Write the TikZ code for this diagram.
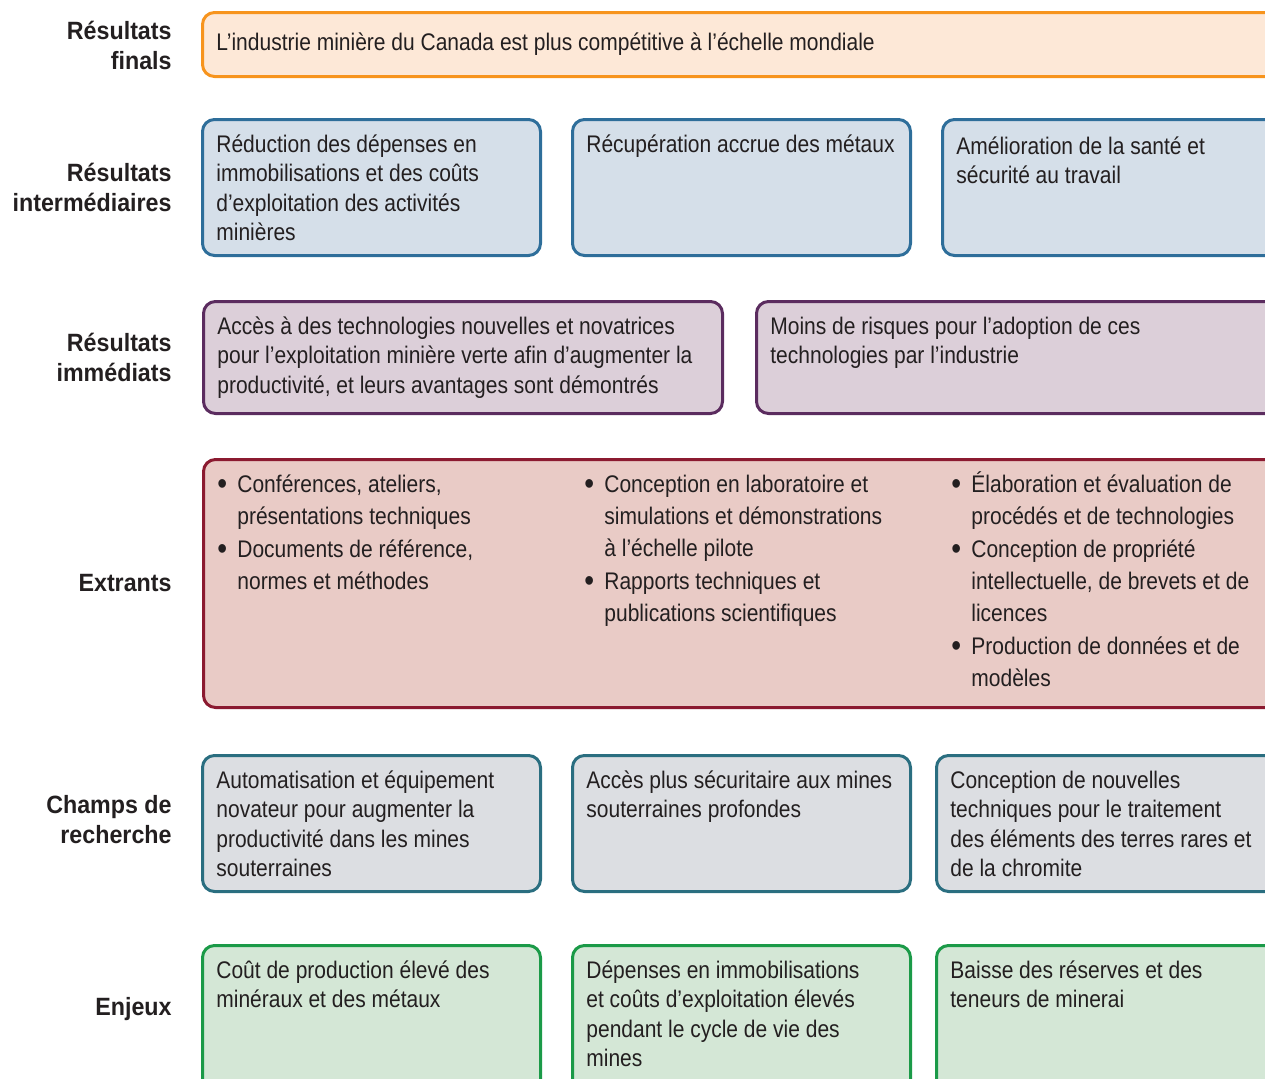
\documentclass[tikz,border=0pt]{standalone}
\usepackage{fontspec}
\setmainfont{Liberation Sans}[FakeStretch=0.875]
\newfontfamily\headfont{Liberation Sans}[FakeStretch=0.93]

\definecolor{ink}{HTML}{231F20}
\definecolor{orangeline}{HTML}{F7941D}
\definecolor{orangefill}{HTML}{FDE8D7}
\definecolor{blueline}{HTML}{2E6E9A}
\definecolor{bluefill}{HTML}{D5DFE9}
\definecolor{plumline}{HTML}{5B2C5F}
\definecolor{plumfill}{HTML}{DCCFD9}
\definecolor{redline}{HTML}{8B1A30}
\definecolor{redfill}{HTML}{E9CBC6}
\definecolor{tealline}{HTML}{2A6E80}
\definecolor{tealfill}{HTML}{DCDEE2}
\definecolor{greenline}{HTML}{1B9A48}
\definecolor{greenfill}{HTML}{D4E7D6}

\newcommand{\itm}{\makebox[10pt][l]{\raisebox{-0.6pt}{\fontsize{16}{16}\selectfont\textbullet}}}
\newcommand{\ind}{\makebox[10pt]{}}

\tikzset{
	panel/.style={draw=#1line, fill=#1fill, line width=1.5pt, rounded corners=6pt, anchor=north west, inner sep=0pt},
	copy/.style={anchor=north west, inner sep=7.5pt, yshift=1pt, align=left, text=ink, font=\fontsize{12}{14.75}\selectfont},
	list/.style={anchor=north west, inner sep=7.5pt, yshift=1.5pt, align=left, text=ink, font=\fontsize{12}{16}\selectfont},
	rowname/.style={anchor=east, align=right, inner sep=0pt, text=ink, font=\headfont\bfseries\fontsize{12.5}{15}\selectfont},
}

\begin{document}
\begin{tikzpicture}[x=0.5pt, y=-0.5pt]
	\def \px{0.5pt}
	
	\useasboundingbox (0,0) rectangle (1265,1078);
	\clip (0,0) rectangle (1265,1078);
	
	% row names
	\node[rowname] (nfin) at (172,45) {Résultats\\finals};
	\node[rowname] (nint) at (172,187) {Résultats\\intermédiaires};
	\node[rowname] (nimm) at (172,357) {Résultats\\immédiats};
	\node[rowname] (next) at (172,583) {Extrants};
	\node[rowname] (nchp) at (172,820) {Champs de\\recherche};
	\node[rowname] (nenj) at (172,1009) {Enjeux};
	
	% final
	\node[panel=orange, minimum width=1100*\px, minimum height=64*\px] (fin) at (201,11) {};
	\node[copy, anchor=west, yshift=-1pt] (fint) at (fin.west) {L’industrie minière du Canada est plus compétitive à l’échelle mondiale};
	
	% intermediate
	\node[panel=blue, minimum width=338*\px, minimum height=136*\px] (int1) at (201,118) {};
	\node[panel=blue, minimum width=338*\px, minimum height=136*\px] (int2) at (571,118) {};
	\node[panel=blue, minimum width=360*\px, minimum height=136*\px] (int3) at (941,118) {};
	\node[copy] (int1t) at (int1.north west) {\strut Réduction des dépenses en\\immobilisations et des coûts\\d’exploitation des activités\\minières};
	\node[copy] (int2t) at (int2.north west) {\strut Récupération accrue des métaux};
	\node[copy] (int3t) at ([yshift=-1pt]int3.north west) {\strut Amélioration de la santé et\\sécurité au travail};
	
	% immediate
	\node[panel=plum, minimum width=519*\px, minimum height=112*\px] (imm1) at (202,300) {};
	\node[panel=plum, minimum width=550*\px, minimum height=112*\px] (imm2) at (755,300) {};
	\node[copy] (imm1t) at (imm1.north west) {\strut Accès à des technologies nouvelles et novatrices\\pour l’exploitation minière verte afin d’augmenter la\\productivité, et leurs avantages sont démontrés};
	\node[copy] (imm2t) at (imm2.north west) {\strut Moins de risques pour l’adoption de ces\\technologies par l’industrie};
	
	% outputs
	\node[panel=red, minimum width=1100*\px, minimum height=248*\px] (ext) at (202,458) {};
	\node[list] (ext1) at (ext.north west) {\strut\itm Conférences, ateliers,\\\ind présentations techniques\\[0.5pt]\itm Documents de référence,\\\ind normes et méthodes};
	\node[list] (ext2) at ([xshift=367*\px]ext.north west) {\strut\itm Conception en laboratoire et\\\ind simulations et démonstrations\\\ind à l’échelle pilote\\[0.5pt]\itm Rapports techniques et\\\ind publications scientifiques};
	\node[list] (ext3) at ([xshift=734*\px]ext.north west) {\strut\itm Élaboration et évaluation de\\\ind procédés et de technologies\\[0.5pt]\itm Conception de propriété\\\ind intellectuelle, de brevets et de\\\ind licences\\[0.5pt]\itm Production de données et de\\\ind modèles};
	
	% research
	\node[panel=teal, minimum width=338*\px, minimum height=136*\px] (chp1) at (201,754) {};
	\node[panel=teal, minimum width=338*\px, minimum height=136*\px] (chp2) at (571,754) {};
	\node[panel=teal, minimum width=366*\px, minimum height=136*\px] (chp3) at (935,754) {};
	\node[copy] (chp1t) at (chp1.north west) {\strut Automatisation et équipement\\novateur pour augmenter la\\productivité dans les mines\\souterraines};
	\node[copy] (chp2t) at (chp2.north west) {\strut Accès plus sécuritaire aux mines\\souterraines profondes};
	\node[copy] (chp3t) at (chp3.north west) {\strut Conception de nouvelles\\techniques pour le traitement\\des éléments des terres rares et\\de la chromite};
	
	% issues
	\node[panel=green, minimum width=338*\px, minimum height=160*\px] (enj1) at (201,944) {};
	\node[panel=green, minimum width=338*\px, minimum height=160*\px] (enj2) at (571,944) {};
	\node[panel=green, minimum width=366*\px, minimum height=160*\px] (enj3) at (935,944) {};
	\node[copy] (enj1t) at (enj1.north west) {\strut Coût de production élevé des\\minéraux et des métaux};
	\node[copy] (enj2t) at (enj2.north west) {\strut Dépenses en immobilisations\\et coûts d’exploitation élevés\\pendant le cycle de vie des\\mines};
	\node[copy] (enj3t) at (enj3.north west) {\strut Baisse des réserves et des\\teneurs de minerai};
	
\end{tikzpicture}
\end{document}
